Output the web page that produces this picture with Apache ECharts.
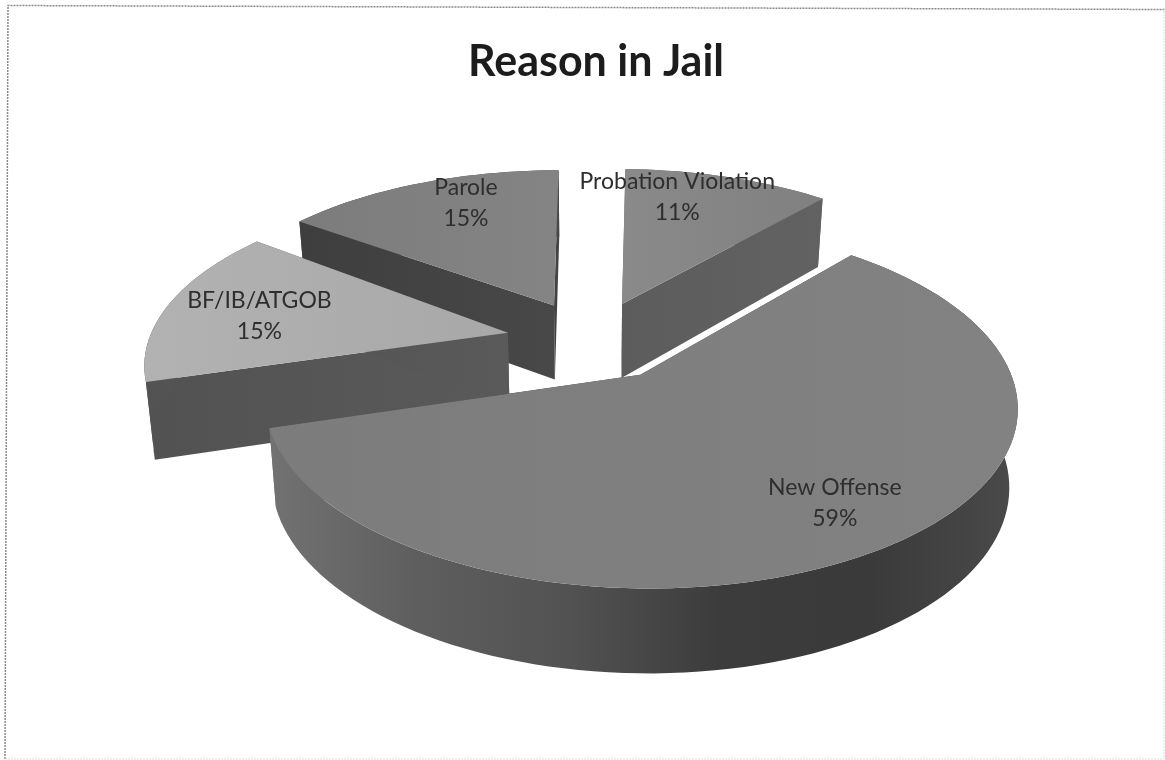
<!DOCTYPE html>
<html>
<head>
<meta charset="utf-8">
<style>html,body{margin:0;padding:0;background:#fff}#c{width:1165px;height:760px}</style>
<script src="https://cdn.jsdelivr.net/npm/echarts@6/dist/echarts.min.js"></script>
</head>
<body>
<div id="c"></div>
<script>
// data
var categories = ['New Offense', 'BF/IB/ATGOB', 'Parole', 'Probation Violation'];
var values = [59, 15, 15, 11];

// styles, one per slice
var topColors = [
  ['#7c7c7c', '#828282'],
  ['#b2b2b2', '#a8a8a8'],
  ['#7c7c7c', '#848484'],
  ['#8a8a8a', '#808080']
];
var wallColors = [
  ['#727272', '#5e5e5e', '#525252', '#3c3c3c', '#3a3a3a', '#4a4a4a'],
  ['#525252', '#5a5a5a'],
  ['#3e3e3e', '#484848'],
  ['#5c5c5c', '#626262']
];
var drawRank = [3, 2, 0, 1];
// label placement on the disc: radius fraction, clock angle
var labelPlace = [[0.789, 144.8], [0.719, 278.1], [0.791, 338.1], [0.789, 13.8]];

// projection of the tilted disc
var startAngle = 41, explodes = [0.24, 0.24, 0.24, 0.24], sliceTurn = [0, 0, -1.5, 0];
var cx = 592, cy = 340, rX = 359, rY = 167, persp = 0.16;
var wallBase = 75.7, wallGrow = 7.7, wallShrink = 0.98;

var total = values.reduce(function (a, b) { return a + b; }, 0);
function sweep(i) {
  var acc = startAngle;
  for (var k = 0; k < i; k++) acc += values[k] / total * 360;
  return [acc + sliceTurn[i], acc + sliceTurn[i] + values[i] / total * 360];
}
function disc(r, deg, off) {
  var a = deg * Math.PI / 180;
  return { u: r * Math.sin(a) + off.u, v: -r * Math.cos(a) + off.v };
}
function upper(p) {
  var d = 1 - persp * p.v;
  return [cx + rX * p.u / d, cy + rY * p.v / d];
}
function lower(p) {
  var t = upper(p);
  return [cx + (t[0] - cx) * wallShrink, t[1] + wallBase + wallGrow * p.v];
}
function grad(cols) {
  return {
    type: 'linear', x: 0, y: 0, x2: 1, y2: 0,
    colorStops: cols.map(function (c, i) { return { offset: i / (cols.length - 1), color: c }; })
  };
}

function renderItem(params, api) {
  var i = params.dataIndex;
  var s = sweep(i);
  var mid = (s[0] + s[1]) / 2 * Math.PI / 180;
  var off = { u: explodes[i] * Math.sin(mid), v: -explodes[i] * Math.cos(mid) };
  var apex = disc(0, 0, off);
  var arc = [];
  var steps = Math.max(8, Math.round((s[1] - s[0]) / 2));
  for (var j = 0; j <= steps; j++) arc.push(disc(1, s[0] + (s[1] - s[0]) * j / steps, off));
  var first = arc[0], last = arc[arc.length - 1];
  var z = drawRank[i] * 10;
  function poly(pts, fill, zz) {
    return {
      type: 'polygon', z2: z + zz, silent: true,
      shape: { points: pts },
      style: { fill: fill, stroke: null }
    };
  }
  var wall = grad(wallColors[i]);
  var children = [
    poly([upper(apex), upper(first), lower(first), lower(apex)], wall, 0),
    poly([upper(apex), upper(last), lower(last), lower(apex)], wall, 1),
    poly(arc.map(upper).concat(arc.slice().reverse().map(lower)), wall, 2),
    poly([upper(apex)].concat(arc.map(upper)), grad(topColors[i]), 3)
  ];
  var place = labelPlace[i];
  var lp = upper(disc(place[0], place[1], off));
  children.push({
    type: 'text', z2: 100, silent: true,
    x: lp[0], y: lp[1],
    style: {
      text: categories[i] + '\n' + Math.round(api.value(0) / total * 100) + '%',
      fill: '#2e2e2e',
      font: '23px Lato',
      lineHeight: 31,
      align: 'center',
      verticalAlign: 'middle'
    }
  });
  return { type: 'group', children: children };
}

var chart = echarts.init(document.getElementById('c'), null, { renderer: 'canvas' });
chart.setOption({
  animation: false,
  backgroundColor: '#ffffff',
  title: {
    text: 'Reason in Jail',
    left: 468,
    top: 41,
    padding: 0,
    textStyle: { fontFamily: 'Lato', fontSize: 43, fontWeight: 'bold', color: '#1c1c1c' }
  },
  graphic: [{
    type: 'polyline',
    shape: { points: [[5, 759], [8, 5.5], [1165, 9.5]] },
    style: { fill: 'none', stroke: '#8a8a8a', lineWidth: 1.5, lineDash: [2, 1] },
    silent: true
  }, {
    type: 'polyline',
    shape: { points: [[5, 759], [1164, 759], [1164, 9.5]] },
    style: { fill: 'none', stroke: '#dddddd', lineWidth: 1, lineDash: [2, 1] },
    silent: true
  }],
  series: [{
    type: 'custom',
    coordinateSystem: 'none',
    renderItem: renderItem,
    data: values.map(function (v) { return [v]; }),
    encode: { value: 0 }
  }]
});
</script>
</body>
</html>
